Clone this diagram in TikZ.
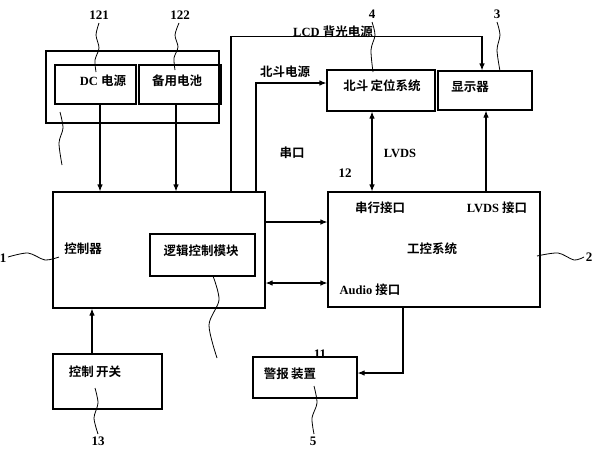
\documentclass[tikz,border=0pt]{standalone}
\usepackage{fontspec}
\setmainfont{Liberation Serif}
\newfontfamily\cjk{Noto Sans CJK SC}[BoldFont={Noto Sans CJK SC Bold}]
\usetikzlibrary{arrows.meta}
\newcommand{\zh}[1]{{\cjk\bfseries #1}}
\begin{document}
\begin{tikzpicture}[x=1pt,y=-1pt,
  box/.style={draw,line width=1.1pt,inner sep=0pt},
  txt/.style={font=\fontsize{12.5}{14}\selectfont\bfseries,inner sep=0pt},
  num/.style={font=\fontsize{13}{15}\selectfont\bfseries,inner sep=0pt},
  arr/.style={line width=1.1pt,-{Latex[length=7pt,width=5.5pt]}},
  darr/.style={line width=1.1pt,{Latex[length=7pt,width=5.5pt]}-{Latex[length=7pt,width=5.5pt]}},
  lead/.style={line width=0.8pt},
]
\useasboundingbox (0,0) rectangle (593,450);
% boxes
\node[box,minimum width=173pt,minimum height=72pt] (pw) at (132.5,87) {};
\node[box,minimum width=81pt,minimum height=39pt] (dc) at (95.5,84.5) {};
\node[box,minimum width=82pt,minimum height=39pt] (bat) at (180,84.5) {};
\node[box,minimum width=212pt,minimum height=116pt] (ctrl) at (159,250) {};
\node[box,minimum width=105pt,minimum height=42pt] (logic) at (202.5,255) {};
\node[box,minimum width=109pt,minimum height=55pt] (sw) at (107.5,381.5) {};
\node[box,minimum width=108pt,minimum height=41pt] (bd) at (381,90.5) {};
\node[box,minimum width=94pt,minimum height=39pt] (disp) at (485,90.5) {};
\node[box,minimum width=212pt,minimum height=115pt] (ipc) at (434,249.5) {};
\node[box,minimum width=104pt,minimum height=41pt] (alarm) at (305,377.5) {};
% box texts
\node[txt] (tdc) at (103,81) {DC \zh{电源}};
\node[txt] (tbat) at (177,81) {\zh{备用电池}};
\node[txt] (tctrl) at (83,249) {\zh{控制器}};
\node[txt] (tlogic) at (201,251) {\zh{逻辑控制模块}};
\node[txt] (tsw) at (95,372) {\zh{控制\,开关}};
\node[txt] (tbd) at (382,86) {\zh{北斗\,定位系统}};
\node[txt] (tdisp) at (470,87) {\zh{显示器}};
\node[txt] (tipc) at (432,249) {\zh{工控系统}};
\node[txt] (tser) at (380,208) {\zh{串行接口}};
\node[txt] (tlvdsif) at (497,208) {LVDS \zh{接口}};
\node[txt] (taudio) at (370,290) {Audio \zh{接口}};
\node[txt] (talarm) at (290,374) {\zh{警报\,装置}};
% connector labels
\node[txt] (tlcd) at (333,32) {LCD \zh{背光电源}};
\node[txt] (tbdp) at (285,72) {\zh{北斗电源}};
\node[txt] (tchk) at (292,153) {\zh{串口}};
\node[txt] (tlvds) at (400,153) {LVDS};
\node[num] (n12) at (345,173) {12};
\node[num] (n11) at (320,354) {11};
% reference numbers
\node[num] (n121) at (99,15) {121};
\node[num] (n122) at (180,15) {122};
\node[num] (n4) at (372,14) {4};
\node[num] (n3) at (497,14) {3};
\node[num] (n1) at (3,258) {1};
\node[num] (n2) at (589,257) {2};
\node[num] (n13) at (98,441) {13};
\node[num] (n5) at (313,441) {5};
% connectors
\draw[arr] ([xshift=4.5pt]dc.south) -- ([xshift=4.5pt]dc.south |- ctrl.north);
\draw[arr] ([xshift=-4pt]bat.south) -- ([xshift=-4pt]bat.south |- ctrl.north);
\draw[arr] ([xshift=72pt]ctrl.north) -- ++(0,-155) -| ([xshift=-3pt]disp.north);
\draw[arr] ([xshift=97pt]ctrl.north) |- ([yshift=7.5pt]bd.west);
\draw[darr] ([xshift=-9pt]bd.south) -- ([xshift=-9pt]bd.south |- ipc.north);
\draw[arr] ([xshift=52pt]ipc.north) -- ([xshift=52pt]ipc.north |- disp.south);
\draw[arr] ([yshift=28pt]ctrl.east) -- ([yshift=28pt]ctrl.east -| ipc.west);
\draw[darr] ([yshift=-33pt]ctrl.east) -- ([yshift=-33pt]ctrl.east -| ipc.west);
\draw[arr] ([xshift=-31pt]ipc.south) |- ([yshift=4.5pt]alarm.east);
\draw[arr] ([xshift=-15.5pt]sw.north) -- ([xshift=-15.5pt]sw.north |- ctrl.south);
% leader squiggles
\draw[lead] plot[smooth] coordinates {(99,23) (96,35) (99,48) (95,60) (96,72)};
\draw[lead] plot[smooth] coordinates {(179,23) (175,35) (178,47) (174,58) (175,70)};
\draw[lead] plot[smooth] coordinates {(372,22) (375,35) (371,50) (373,72)};
\draw[lead] plot[smooth] coordinates {(497,22) (500,35) (497,50) (500,71)};
\draw[lead] plot[smooth] coordinates {(60,112) (63,128) (59,143) (62,165)};
\draw[lead] plot[smooth] coordinates {(8,257) (28,253) (45,260) (59,257)};
\draw[lead] plot[smooth] coordinates {(213,276) (219,300) (209,325) (217,358)};
\draw[lead] plot[smooth] coordinates {(95,388) (98,403) (94,418) (98,434)};
\draw[lead] plot[smooth] coordinates {(314,386) (317,403) (312,418) (314,434)};
\draw[lead] plot[smooth] coordinates {(537,256) (558,253) (574,260) (584,257)};
\end{tikzpicture}
\end{document}
